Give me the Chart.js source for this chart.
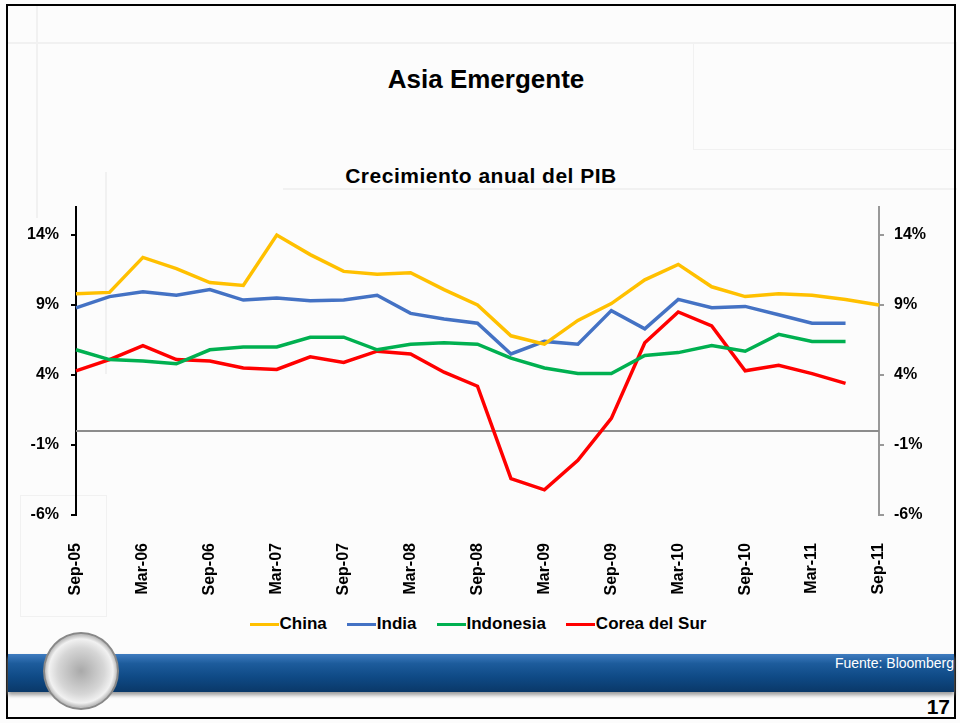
<!DOCTYPE html>
<html>
<head>
<meta charset="utf-8">
<script src="https://cdn.jsdelivr.net/npm/chart.js@4.4.1/dist/chart.umd.min.js"></script>
<style>
  html, body { margin: 0; padding: 0; }
  body { width: 960px; height: 723px; position: relative; overflow: hidden; background: #fcfcfc; font-family: "Liberation Sans", Arial, sans-serif; }
  .faint { position: absolute; border: 1px solid #f1f1f1; }
  #frame { position: absolute; left: 6px; top: 4px; width: 946px; height: 711px; border: 2px solid #000; }
  #title { position: absolute; left: 0; width: 972px; top: 64px; text-align: center; font-size: 26px; font-weight: bold; color: #000; }
  #subtitle { position: absolute; left: 0; width: 962px; top: 164px; text-align: center; font-size: 21px; font-weight: bold; color: #000; letter-spacing: 0.5px; }
  #chart { position: absolute; left: 0; top: 0; }
  #legend { position: absolute; left: 0; width: 956px; top: 614px; display: flex; justify-content: center; gap: 20px; font-size: 17px; font-weight: bold; }
  #legend span.item { display: flex; align-items: center; }
  #legend span.sw { display: inline-block; width: 29px; height: 3px; margin-right: 1px; }
  #band { position: absolute; left: 8px; right: 6px; top: 654px; height: 38px; background: linear-gradient(#3f7cc0 0%, #1d5c9c 25%, #0f4a86 60%, #0a3868 100%); box-shadow: 0 3px 4px #999; }
  #fuente { position: absolute; right: 6px; top: 655px; color: #fff; font-size: 14px; }
  #page { position: absolute; right: 10px; top: 695px; font-size: 21px; font-weight: bold; }
  #logo { position: absolute; left: 43px; top: 632px; width: 72px; height: 74px; border-radius: 50%; background: radial-gradient(circle, #a9a9a9 0%, #d6d6d6 45%, #f1f1f1 62%, #bdbdbd 70%, #eeeeee 78%, #999 100%); border: 2px solid #888; }
</style>
</head>
<body>
<div class="faint" style="left:8px; top:42px; width:946px; height:0"></div>
<div class="faint" style="left:36px; top:6px; width:0; height:210px"></div>
<div class="faint" style="left:693px; top:42px; width:262px; height:106px"></div>
<div class="faint" style="left:283px; top:188px; width:672px; height:0"></div>
<div class="faint" style="left:105px; top:172px; width:0; height:200px"></div>
<div class="faint" style="left:20px; top:495px; width:85px; height:120px"></div>
<div id="frame"></div>
<div id="title">Asia Emergente</div>
<div id="subtitle">Crecimiento anual del PIB</div>
<canvas id="chart" width="960" height="600"></canvas>
<div id="legend"></div>
<div id="band"></div>
<div id="logo"></div>
<div id="fuente">Fuente: Bloomberg</div>
<div id="page">17</div>
<script>
//--- Data (trimestral, % anual)
var quarters = ['Sep-05', 'Dec-05', 'Mar-06', 'Jun-06', 'Sep-06', 'Dec-06', 'Mar-07', 'Jun-07', 'Sep-07', 'Dec-07',
    'Mar-08', 'Jun-08', 'Sep-08', 'Dec-08', 'Mar-09', 'Jun-09', 'Sep-09', 'Dec-09', 'Mar-10', 'Jun-10',
    'Sep-10', 'Dec-10', 'Mar-11', 'Jun-11', 'Sep-11'];
var china = [9.8, 9.9, 12.4, 11.6, 10.6, 10.4, 14.0, 12.6, 11.4, 11.2, 11.3, 10.1, 9.0, 6.8, 6.2, 7.9, 9.1, 10.8, 11.9, 10.3, 9.6, 9.8, 9.7, 9.4, 9.0];
var india = [8.8, 9.6, 9.95, 9.7, 10.1, 9.35, 9.5, 9.3, 9.35, 9.7, 8.4, 8.0, 7.7, 5.5, 6.4, 6.2, 8.6, 7.3, 9.4, 8.8, 8.9, 8.3, 7.7, 7.7, null];
var indonesia = [5.8, 5.1, 5.0, 4.8, 5.8, 6.0, 6.0, 6.7, 6.7, 5.8, 6.2, 6.3, 6.2, 5.2, 4.5, 4.1, 4.1, 5.4, 5.6, 6.1, 5.7, 6.9, 6.4, 6.4, null];
var corea = [4.3, 5.1, 6.1, 5.1, 5.0, 4.5, 4.4, 5.3, 4.9, 5.7, 5.5, 4.2, 3.2, -3.4, -4.2, -2.1, 0.9, 6.3, 8.5, 7.5, 4.3, 4.7, 4.1, 3.4, null];
var seriesNames = ['China', 'India', 'Indonesia', 'Corea del Sur'];
var seriesColors = ['#FFC000', '#4472C4', '#00B050', '#FF0000'];
var yTicks = [-6, -1, 4, 9, 14];
var yMin = -6, yMax = 16;

var allSeries = [china, india, indonesia, corea];
var datasets = [];
allSeries.forEach(function (values, i) {
    datasets.push({
        label: seriesNames[i],
        data: values,
        borderColor: seriesColors[i],
        backgroundColor: seriesColors[i],
        borderWidth: 3.5,
        pointRadius: 0,
        tension: 0,
        yAxisID: 'y'
    });
});

//--- legend (html)
var legend = document.getElementById('legend');
seriesNames.forEach(function (name, i) {
    var item = document.createElement('span');
    item.className = 'item';
    item.innerHTML = '<span class="sw" style="background:' + seriesColors[i] + '"></span>' + name;
    legend.appendChild(item);
});

// gray line at 0%
var zeroLine = {
    id: 'zeroLine',
    beforeDatasetsDraw: function (chart) {
        var ctx = chart.ctx, area = chart.chartArea;
        var y = chart.scales.y.getPixelForValue(0);
        ctx.save();
        ctx.strokeStyle = '#8c8c8c';
        ctx.lineWidth = 2;
        ctx.beginPath();
        ctx.moveTo(area.left, y);
        ctx.lineTo(area.right, y);
        ctx.stroke();
        ctx.restore();
    }
};

var tickFont = { family: 'Liberation Sans', size: 16, weight: 'bold' };
function setTicks(scale) {
    scale.ticks = yTicks.map(function (v) { return { value: v }; });
}

var chart = new Chart(document.getElementById('chart'), {
    type: 'line',
    data: { labels: quarters, datasets: datasets },
    plugins: [zeroLine],
    options: {
        responsive: false,
        animation: false,
        layout: { padding: { top: 207, left: 0, right: 0, bottom: 0 } },
        plugins: { legend: { display: false }, tooltip: { enabled: false } },
        scales: {
            x: {
                offset: false,
                grid: { display: false },
                border: { display: false },
                ticks: {
                    autoSkip: false,
                    minRotation: 90,
                    maxRotation: 90,
                    padding: 20,
                    color: '#000',
                    font: tickFont,
                    callback: function (v, i) { return i % 2 === 0 ? quarters[i] : ''; }
                },
                afterFit: function (s) { s.height = 85; }
            },
            y: {
                position: 'left',
                min: yMin, max: yMax,
                afterBuildTicks: setTicks,
                grid: { drawOnChartArea: false, drawTicks: true, tickLength: 5, color: '#000', lineWidth: 2 },
                border: { display: true, color: '#000', width: 2 },
                ticks: { color: '#000', font: tickFont, padding: 12, callback: function (v) { return v + '%'; } },
                afterFit: function (s) { s.width = 76; }
            },
            y2: {
                position: 'right',
                min: yMin, max: yMax,
                afterBuildTicks: setTicks,
                grid: { drawOnChartArea: false, drawTicks: true, tickLength: 5, color: '#999', lineWidth: 2 },
                border: { display: true, color: '#999', width: 2 },
                ticks: { color: '#000', font: tickFont, padding: 10, callback: function (v) { return v + '%'; } },
                afterFit: function (s) { s.width = 81; }
            }
        }
    }
});
</script>
</body>
</html>
